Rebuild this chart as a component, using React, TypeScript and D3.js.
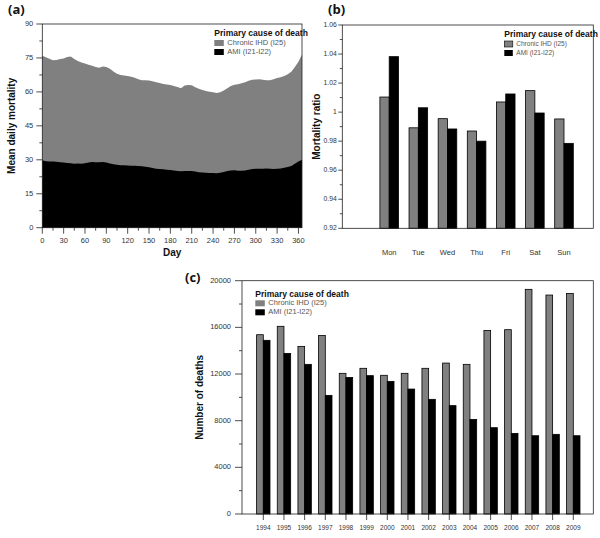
import React from "react";
import * as d3 from "d3";

// ---------- Panel (a) data: mean daily mortality by day of year ----------
const dayPoints = [0,5,10,15,20,25,30,35,40,45,50,55,60,65,70,75,80,85,90,95,100,105,110,115,120,125,130,135,140,145,150,155,160,165,170,175,180,185,190,195,200,205,210,215,220,225,230,235,240,245,250,255,260,265,270,275,280,285,290,295,300,305,310,315,320,325,330,335,340,345,350,355,360,365];
const totalDaily = [76.0,75.3,74.6,74.0,74.1,74.5,74.8,75.4,75.6,74.5,73.6,73.0,72.5,72.0,71.6,71.0,70.7,71.2,71.0,70.2,69.0,68.0,67.5,67.3,67.0,66.7,66.3,65.6,65.2,65.1,65.0,64.7,64.3,63.9,63.5,63.3,63.0,62.6,62.2,61.6,62.8,63.1,62.9,62.0,61.4,60.8,60.4,60.1,59.9,59.5,59.8,60.6,61.6,62.6,63.2,63.4,63.8,64.3,64.9,65.4,65.5,65.6,65.4,65.2,65.1,65.6,66.1,66.5,67.0,67.8,68.9,71.0,73.3,76.5];
const amiDaily = [29.8,29.4,29.2,29.3,29.1,28.9,28.8,28.6,28.5,28.3,28.4,28.2,28.5,28.8,29.0,28.9,28.9,29.0,28.8,28.4,28.0,27.8,27.6,27.6,27.5,27.4,27.4,27.3,27.1,26.9,26.7,26.4,26.1,25.9,25.8,25.6,25.5,25.3,25.1,24.9,25.0,25.1,25.0,24.8,24.5,24.4,24.3,24.2,24.2,24.1,24.3,24.6,25.0,25.3,25.4,25.2,25.2,25.3,25.6,25.9,26.0,26.1,26.1,26.2,26.0,25.9,26.0,26.2,26.5,26.8,27.3,28.3,29.2,30.0];
const dayTicks = [0,30,60,90,120,150,180,210,240,270,300,330,360];
const dailyTicks = [0,15,30,45,60,75,90];

// ---------- Panel (b) data: mortality ratio by weekday ----------
const weekdays = ["Mon","Tue","Wed","Thu","Fri","Sat","Sun"];
const ratioIHD = [1.0104,0.9892,0.9955,0.9870,1.0070,1.0148,0.9953];
const ratioAMI = [1.0382,1.0030,0.9884,0.9800,1.0125,0.9994,0.9785];
const ratioTicks = [0.92,0.94,0.96,0.98,1,1.02,1.04,1.06];

// ---------- Panel (c) data: number of deaths by year ----------
const years = ["1994","1995","1996","1997","1998","1999","2000","2001","2002","2003","2004","2005","2006","2007","2008","2009"];
const deathsIHD = [15370,16090,14370,15310,12060,12490,11890,12060,12490,12940,12830,15740,15800,19260,18770,18910];
const deathsAMI = [14890,13770,12830,10170,11710,11860,11370,10710,9830,9290,8110,7400,6910,6710,6830,6710];
const deathTicks = [0,4000,8000,12000,16000,20000];

const seriesNames = ["Chronic IHD (I25)", "AMI (I21-I22)"];
const GRAY = "#808080";
const FONT = "'Liberation Sans', Arial, sans-serif";

function Legend({ x, y, small }: { x: number; y: number; small?: boolean }) {
  const fs = small ? 6.5 : 7.5;
  return (
    <g transform={`translate(${x},${y})`} fontFamily={FONT}>
      <text x={0} y={0} fontSize={8.5} fontWeight="bold" fill="#111" dominantBaseline="middle">Primary cause of death</text>
      <rect x={0} y={6} width={small ? 8.5 : 9.5} height={6} fill={GRAY} stroke="#000" strokeWidth={small ? 0.6 : 0} />
      <rect x={0} y={15} width={small ? 8.5 : 9.5} height={6} fill="#000" />
      <text x={small ? 12 : 13} y={9} fontSize={fs} fill="#555" dominantBaseline="middle">{seriesNames[0]}</text>
      <text x={small ? 12 : 13} y={18} fontSize={fs} fill="#555" dominantBaseline="middle">{seriesNames[1]}</text>
    </g>
  );
}

function PanelA() {
  const L = 42.3, R = 302, T = 24, B = 227.7;
  const x = d3.scaleLinear().domain([0, 365]).range([L, R]);
  const y = d3.scaleLinear().domain([0, 90]).range([B, T]);
  const data = dayPoints.map((d, i) => ({ d, tot: totalDaily[i], ami: amiDaily[i] }));
  const areaTot = d3.area<any>().x(p => x(p.d)).y0(y(0)).y1(p => y(p.tot));
  const areaAmi = d3.area<any>().x(p => x(p.d)).y0(y(0)).y1(p => y(p.ami));
  const minorY = d3.range(7.5, 90, 15);
  const minorX = d3.range(15, 366, 30);
  return (
    <g fontFamily={FONT}>
      <path d={areaTot(data) || ""} fill={GRAY} />
      <path d={areaAmi(data) || ""} fill="#000" />
      <rect x={L} y={T} width={R - L} height={B - T} fill="none" stroke="#222" strokeWidth={0.8} />
      {dailyTicks.map(t => (
        <g key={t}>
          <line x1={L - 6} x2={L} y1={y(t)} y2={y(t)} stroke="#222" strokeWidth={0.8} />
          <text x={L - 9} y={y(t)} fontSize={7.5} fill="#333" textAnchor="end" dominantBaseline="middle">{t}</text>
        </g>
      ))}
      {minorY.map(t => <line key={t} x1={L - 3} x2={L} y1={y(t)} y2={y(t)} stroke="#222" strokeWidth={0.8} />)}
      {dayTicks.map(t => (
        <g key={t}>
          <line x1={x(t)} x2={x(t)} y1={B} y2={B + 6} stroke="#222" strokeWidth={0.8} />
          <text x={x(t)} y={B + 15} fontSize={7.5} fill="#333" textAnchor="middle">{t}</text>
        </g>
      ))}
      {minorX.map(t => <line key={t} x1={x(t)} x2={x(t)} y1={B} y2={B + 3} stroke="#222" strokeWidth={0.8} />)}
      <text x={(L + R) / 2} y={256} fontSize={10} fontWeight="bold" textAnchor="middle" fill="#111">Day</text>
      <text transform={`translate(15,${(T + B) / 2}) rotate(-90)`} fontSize={10} fontWeight="bold" textAnchor="middle" fill="#111">Mean daily mortality</text>
      <text x={8} y={14} fontSize={13} fontWeight="bold" fill="#111" fontFamily="'Open Sans', sans-serif">(a)</text>
      <Legend x={214.3} y={34} />
    </g>
  );
}

function PanelB() {
  const L = 342.3, R = 593.3, T = 25, B = 228.3;
  const x = d3.scalePoint<string>().domain(weekdays).range([389.2, 564]);
  const y = d3.scaleLinear().domain([0.92, 1.06]).range([B, T]);
  const bw = 9.3;
  const minorY = d3.range(0.93, 1.06, 0.02);
  return (
    <g fontFamily={FONT}>
      {weekdays.map((w, i) => (
        <g key={w}>
          <rect x={x(w)! - bw} y={y(ratioIHD[i])} width={bw} height={B - y(ratioIHD[i])} fill={GRAY} stroke="#000" strokeWidth={0.8} />
          <rect x={x(w)!} y={y(ratioAMI[i])} width={bw} height={B - y(ratioAMI[i])} fill="#000" stroke="#000" strokeWidth={0.8} />
          <text x={x(w)} y={B + 27} fontSize={7.5} fill="#333" textAnchor="middle">{w}</text>
        </g>
      ))}
      <rect x={L} y={T} width={R - L} height={B - T} fill="none" stroke="#222" strokeWidth={0.8} />
      {ratioTicks.map(t => (
        <g key={t}>
          <line x1={L - 4} x2={L} y1={y(t)} y2={y(t)} stroke="#222" strokeWidth={0.8} />
          <text x={L - 5.5} y={y(t)} fontSize={6.8} fill="#333" textAnchor="end" dominantBaseline="middle">{t === 1 ? "1" : d3.format(".2f")(t)}</text>
        </g>
      ))}
      {minorY.map(t => <line key={t} x1={L - 2.5} x2={L} y1={y(t)} y2={y(t)} stroke="#222" strokeWidth={0.8} />)}
      <text transform={`translate(320,${(T + B) / 2}) rotate(-90)`} fontSize={10} fontWeight="bold" textAnchor="middle" fill="#111">Mortality ratio</text>
      <text x={328} y={14} fontSize={13} fontWeight="bold" fill="#111" fontFamily="'Open Sans', sans-serif">(b)</text>
      <Legend x={504.3} y={35} small />
    </g>
  );
}

function PanelC() {
  const L = 242, R = 593.3, T = 280.7, B = 514;
  const x = d3.scalePoint<string>().domain(years).range([263.3, 573.3]);
  const y = d3.scaleLinear().domain([0, 20000]).range([B, T]);
  const bw = 6.7;
  const minorY = d3.range(2000, 20000, 4000);
  return (
    <g fontFamily={FONT}>
      {years.map((yr, i) => (
        <g key={yr}>
          <rect x={x(yr)! - bw} y={y(deathsIHD[i])} width={bw} height={B - y(deathsIHD[i])} fill={GRAY} stroke="#000" strokeWidth={0.8} />
          <rect x={x(yr)!} y={y(deathsAMI[i])} width={bw} height={B - y(deathsAMI[i])} fill="#000" stroke="#000" strokeWidth={0.8} />
          <line x1={x(yr)} x2={x(yr)} y1={B} y2={B + 6} stroke="#222" strokeWidth={0.8} />
          <text x={x(yr)} y={B + 16} fontSize={6.5} fill="#333" textAnchor="middle">{yr}</text>
        </g>
      ))}
      <rect x={L} y={T} width={R - L} height={B - T} fill="none" stroke="#222" strokeWidth={0.8} />
      {deathTicks.map(t => (
        <g key={t}>
          <line x1={L - 7} x2={L} y1={y(t)} y2={y(t)} stroke="#222" strokeWidth={0.8} />
          <text x={L - 11} y={y(t)} fontSize={7.5} fill="#333" textAnchor="end" dominantBaseline="middle">{t}</text>
        </g>
      ))}
      {minorY.map(t => <line key={t} x1={L - 3} x2={L} y1={y(t)} y2={y(t)} stroke="#222" strokeWidth={0.8} />)}
      <text transform={`translate(203,${(T + B) / 2}) rotate(-90)`} fontSize={10} fontWeight="bold" textAnchor="middle" fill="#111">Number of deaths</text>
      <text x={185} y={282} fontSize={13} fontWeight="bold" fill="#111" fontFamily="'Open Sans', sans-serif">(c)</text>
      <Legend x={255.3} y={294.3} />
    </g>
  );
}

export default function App() {
  return (
    <svg width={600} height={538} style={{ position: "absolute", left: 0, top: 0, background: "#fff" }}>
      <rect width={600} height={538} fill="#fff" />
      <PanelA />
      <PanelB />
      <PanelC />
    </svg>
  );
}
